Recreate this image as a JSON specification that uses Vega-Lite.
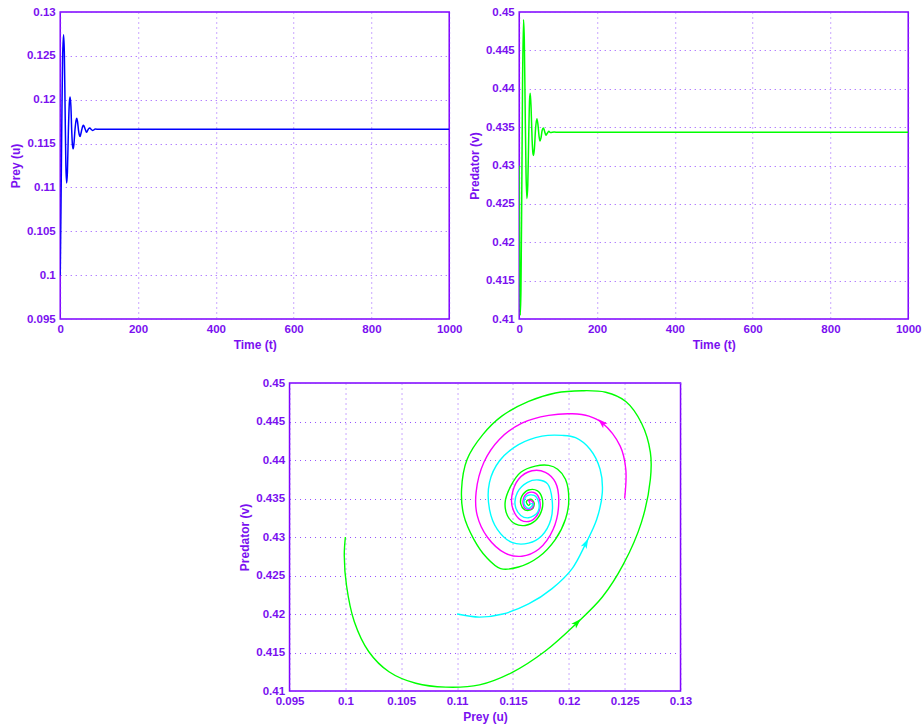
{
  "$schema": "https://vega.github.io/schema/vega-lite/v6.json",
  "padding": {"left": 8, "top": 5, "right": 1, "bottom": 2},
  "background": "white",
  "datasets": {
    "prey": [
      {"t": 0, "u": 0.1}, {"t": 2, "u": 0.108}, {"t": 4, "u": 0.117}, {"t": 6, "u": 0.1245},
      {"t": 8.5, "u": 0.1274}, {"t": 10.5, "u": 0.1255}, {"t": 12.5, "u": 0.119}, {"t": 14.5, "u": 0.1125},
      {"t": 16.5, "u": 0.1105}, {"t": 18.5, "u": 0.1118}, {"t": 21, "u": 0.1165}, {"t": 23.5, "u": 0.1197},
      {"t": 25.5, "u": 0.1203}, {"t": 27.5, "u": 0.1192}, {"t": 29.5, "u": 0.1165}, {"t": 31.5, "u": 0.1148},
      {"t": 33.5, "u": 0.1144}, {"t": 35.5, "u": 0.1151}, {"t": 38, "u": 0.1166}, {"t": 40.5, "u": 0.1176},
      {"t": 42.5, "u": 0.1179}, {"t": 44.5, "u": 0.1175}, {"t": 47, "u": 0.1165}, {"t": 49, "u": 0.116},
      {"t": 51, "u": 0.1158}, {"t": 53, "u": 0.1161}, {"t": 55.5, "u": 0.1166}, {"t": 58, "u": 0.117},
      {"t": 60, "u": 0.1171}, {"t": 62, "u": 0.1169}, {"t": 64.5, "u": 0.1166}, {"t": 67.5, "u": 0.1163},
      {"t": 70.5, "u": 0.1165}, {"t": 73, "u": 0.1167}, {"t": 76, "u": 0.11677}, {"t": 80, "u": 0.1166},
      {"t": 84, "u": 0.1165}, {"t": 90, "u": 0.11665}, {"t": 100, "u": 0.11662}, {"t": 200, "u": 0.11663},
      {"t": 400, "u": 0.11663}, {"t": 600, "u": 0.11663}, {"t": 800, "u": 0.11663}, {"t": 1000, "u": 0.11663}
    ],
    "pred": [
      {"t": 0, "v": 0.43}, {"t": 1, "v": 0.419}, {"t": 2.6, "v": 0.4105}, {"t": 4.5, "v": 0.414},
      {"t": 6.5, "v": 0.426}, {"t": 8.5, "v": 0.4405}, {"t": 11, "v": 0.449}, {"t": 13, "v": 0.4465},
      {"t": 15, "v": 0.4385}, {"t": 17.5, "v": 0.429}, {"t": 19.7, "v": 0.4257}, {"t": 22, "v": 0.4275},
      {"t": 24.5, "v": 0.434}, {"t": 26.5, "v": 0.4385}, {"t": 28.3, "v": 0.4394}, {"t": 30.5, "v": 0.4375},
      {"t": 33, "v": 0.4335}, {"t": 35.5, "v": 0.4315}, {"t": 36.8, "v": 0.4313}, {"t": 39, "v": 0.4322},
      {"t": 42, "v": 0.4348}, {"t": 45.4, "v": 0.4361}, {"t": 48, "v": 0.4354}, {"t": 51, "v": 0.4338},
      {"t": 53.5, "v": 0.4332}, {"t": 56, "v": 0.4336}, {"t": 59, "v": 0.4346}, {"t": 62, "v": 0.4349},
      {"t": 65, "v": 0.4345}, {"t": 68.5, "v": 0.43395}, {"t": 72, "v": 0.4342}, {"t": 76, "v": 0.43445},
      {"t": 80, "v": 0.4343}, {"t": 90, "v": 0.43435}, {"t": 100, "v": 0.43432}, {"t": 200, "v": 0.43432},
      {"t": 400, "v": 0.43432}, {"t": 600, "v": 0.43432}, {"t": 800, "v": 0.43432}, {"t": 1000, "v": 0.43432}
    ],
    "phase": [
      {"s": "green", "i": 0, "u": 0.1, "v": 0.43}, {"s": "green", "i": 1, "u": 0.0999, "v": 0.4276},
      {"s": "green", "i": 2, "u": 0.1001, "v": 0.4237}, {"s": "green", "i": 3, "u": 0.1008, "v": 0.419},
      {"s": "green", "i": 4, "u": 0.1021, "v": 0.4151}, {"s": "green", "i": 5, "u": 0.1039, "v": 0.4125},
      {"s": "green", "i": 6, "u": 0.1063, "v": 0.411}, {"s": "green", "i": 7, "u": 0.109, "v": 0.4105},
      {"s": "green", "i": 8, "u": 0.112, "v": 0.4108}, {"s": "green", "i": 9, "u": 0.1149, "v": 0.4124},
      {"s": "green", "i": 10, "u": 0.1179, "v": 0.4152}, {"s": "green", "i": 11, "u": 0.1207, "v": 0.4188},
      {"s": "green", "i": 12, "u": 0.123, "v": 0.4222}, {"s": "green", "i": 13, "u": 0.1249, "v": 0.4265},
      {"s": "green", "i": 14, "u": 0.1265, "v": 0.4319}, {"s": "green", "i": 15, "u": 0.1273, "v": 0.4375},
      {"s": "green", "i": 16, "u": 0.1273, "v": 0.441}, {"s": "green", "i": 17, "u": 0.1265, "v": 0.4448},
      {"s": "green", "i": 18, "u": 0.1251, "v": 0.4476}, {"s": "green", "i": 19, "u": 0.1233, "v": 0.4488},
      {"s": "green", "i": 20, "u": 0.1212, "v": 0.449}, {"s": "green", "i": 21, "u": 0.1188, "v": 0.4487},
      {"s": "green", "i": 22, "u": 0.1164, "v": 0.4476}, {"s": "green", "i": 23, "u": 0.114, "v": 0.4457},
      {"s": "green", "i": 24, "u": 0.1123, "v": 0.4433}, {"s": "green", "i": 25, "u": 0.1109, "v": 0.4401},
      {"s": "green", "i": 26, "u": 0.1104, "v": 0.4362}, {"s": "green", "i": 27, "u": 0.1106, "v": 0.4328},
      {"s": "green", "i": 28, "u": 0.1115, "v": 0.4297}, {"s": "green", "i": 29, "u": 0.1126, "v": 0.4274},
      {"s": "green", "i": 30, "u": 0.1139, "v": 0.4259}, {"s": "green", "i": 31, "u": 0.1155, "v": 0.4261},
      {"s": "green", "i": 32, "u": 0.1173, "v": 0.4274}, {"s": "green", "i": 33, "u": 0.1188, "v": 0.4297},
      {"s": "green", "i": 34, "u": 0.1197, "v": 0.4323}, {"s": "green", "i": 35, "u": 0.12, "v": 0.4349},
      {"s": "green", "i": 36, "u": 0.1197, "v": 0.4375}, {"s": "green", "i": 37, "u": 0.119, "v": 0.4388},
      {"s": "green", "i": 38, "u": 0.1182, "v": 0.4393}, {"s": "green", "i": 39, "u": 0.117, "v": 0.4392},
      {"s": "green", "i": 40, "u": 0.1157, "v": 0.4384}, {"s": "green", "i": 41, "u": 0.1148, "v": 0.4366},
      {"s": "green", "i": 42, "u": 0.1143, "v": 0.4345}, {"s": "green", "i": 43, "u": 0.1145, "v": 0.4328},
      {"s": "green", "i": 44, "u": 0.1152, "v": 0.4317}, {"s": "green", "i": 45, "u": 0.1161, "v": 0.4315},
      {"s": "green", "i": 46, "u": 0.117, "v": 0.4321}, {"s": "green", "i": 47, "u": 0.1176, "v": 0.4336},
      {"s": "green", "i": 48, "u": 0.1176, "v": 0.4351}, {"s": "green", "i": 49, "u": 0.1172, "v": 0.436},
      {"s": "green", "i": 50, "u": 0.1164, "v": 0.4361}, {"s": "green", "i": 51, "u": 0.1158, "v": 0.4353},
      {"s": "green", "i": 52, "u": 0.1157, "v": 0.4343}, {"s": "green", "i": 53, "u": 0.1161, "v": 0.4335},
      {"s": "green", "i": 54, "u": 0.1167, "v": 0.4336}, {"s": "green", "i": 55, "u": 0.1169, "v": 0.4344},
      {"s": "green", "i": 56, "u": 0.1166, "v": 0.4349}, {"s": "green", "i": 57, "u": 0.1162, "v": 0.4346},
      {"s": "green", "i": 58, "u": 0.1164, "v": 0.4341}, {"s": "green", "i": 59, "u": 0.11655, "v": 0.43432},
      {"s": "magenta", "i": 0, "u": 0.125, "v": 0.435}, {"s": "magenta", "i": 1, "u": 0.1251, "v": 0.4388},
      {"s": "magenta", "i": 2, "u": 0.1246, "v": 0.4418}, {"s": "magenta", "i": 3, "u": 0.123, "v": 0.4448},
      {"s": "magenta", "i": 4, "u": 0.1218, "v": 0.4457}, {"s": "magenta", "i": 5, "u": 0.1203, "v": 0.446},
      {"s": "magenta", "i": 6, "u": 0.1182, "v": 0.4458}, {"s": "magenta", "i": 7, "u": 0.1158, "v": 0.4448},
      {"s": "magenta", "i": 8, "u": 0.1138, "v": 0.4427}, {"s": "magenta", "i": 9, "u": 0.1124, "v": 0.4397},
      {"s": "magenta", "i": 10, "u": 0.1117, "v": 0.4358}, {"s": "magenta", "i": 11, "u": 0.1118, "v": 0.4328},
      {"s": "magenta", "i": 12, "u": 0.1127, "v": 0.43}, {"s": "magenta", "i": 13, "u": 0.1143, "v": 0.4279},
      {"s": "magenta", "i": 14, "u": 0.1158, "v": 0.4275}, {"s": "magenta", "i": 15, "u": 0.1173, "v": 0.4284},
      {"s": "magenta", "i": 16, "u": 0.1186, "v": 0.431}, {"s": "magenta", "i": 17, "u": 0.1191, "v": 0.4345},
      {"s": "magenta", "i": 18, "u": 0.1188, "v": 0.4371}, {"s": "magenta", "i": 19, "u": 0.1179, "v": 0.4384},
      {"s": "magenta", "i": 20, "u": 0.1167, "v": 0.4386}, {"s": "magenta", "i": 21, "u": 0.1155, "v": 0.4375},
      {"s": "magenta", "i": 22, "u": 0.1149, "v": 0.4353}, {"s": "magenta", "i": 23, "u": 0.115, "v": 0.4336},
      {"s": "magenta", "i": 24, "u": 0.1157, "v": 0.4322}, {"s": "magenta", "i": 25, "u": 0.1166, "v": 0.4321},
      {"s": "magenta", "i": 26, "u": 0.1173, "v": 0.4332}, {"s": "magenta", "i": 27, "u": 0.1174, "v": 0.4347},
      {"s": "magenta", "i": 28, "u": 0.117, "v": 0.4357}, {"s": "magenta", "i": 29, "u": 0.1163, "v": 0.4357},
      {"s": "magenta", "i": 30, "u": 0.1159, "v": 0.4347}, {"s": "magenta", "i": 31, "u": 0.1161, "v": 0.4337},
      {"s": "magenta", "i": 32, "u": 0.1167, "v": 0.4337}, {"s": "magenta", "i": 33, "u": 0.1168, "v": 0.4345},
      {"s": "magenta", "i": 34, "u": 0.1164, "v": 0.4348}, {"s": "magenta", "i": 35, "u": 0.11655, "v": 0.43432},
      {"s": "cyan", "i": 0, "u": 0.11, "v": 0.42}, {"s": "cyan", "i": 1, "u": 0.112, "v": 0.4196},
      {"s": "cyan", "i": 2, "u": 0.1141, "v": 0.42}, {"s": "cyan", "i": 3, "u": 0.1164, "v": 0.4213},
      {"s": "cyan", "i": 4, "u": 0.1185, "v": 0.4233}, {"s": "cyan", "i": 5, "u": 0.1203, "v": 0.4259},
      {"s": "cyan", "i": 6, "u": 0.1215, "v": 0.4291}, {"s": "cyan", "i": 7, "u": 0.1225, "v": 0.4323},
      {"s": "cyan", "i": 8, "u": 0.123, "v": 0.4358}, {"s": "cyan", "i": 9, "u": 0.1228, "v": 0.4388},
      {"s": "cyan", "i": 10, "u": 0.1219, "v": 0.4414}, {"s": "cyan", "i": 11, "u": 0.1206, "v": 0.4429},
      {"s": "cyan", "i": 12, "u": 0.1194, "v": 0.4432}, {"s": "cyan", "i": 13, "u": 0.1176, "v": 0.4431},
      {"s": "cyan", "i": 14, "u": 0.1155, "v": 0.442}, {"s": "cyan", "i": 15, "u": 0.1138, "v": 0.4399},
      {"s": "cyan", "i": 16, "u": 0.1129, "v": 0.4371}, {"s": "cyan", "i": 17, "u": 0.1129, "v": 0.4336},
      {"s": "cyan", "i": 18, "u": 0.1136, "v": 0.431}, {"s": "cyan", "i": 19, "u": 0.1149, "v": 0.4293},
      {"s": "cyan", "i": 20, "u": 0.1164, "v": 0.4292}, {"s": "cyan", "i": 21, "u": 0.1176, "v": 0.4302},
      {"s": "cyan", "i": 22, "u": 0.1184, "v": 0.4323}, {"s": "cyan", "i": 23, "u": 0.1185, "v": 0.4349},
      {"s": "cyan", "i": 24, "u": 0.1181, "v": 0.4369}, {"s": "cyan", "i": 25, "u": 0.1173, "v": 0.4374},
      {"s": "cyan", "i": 26, "u": 0.1163, "v": 0.4371}, {"s": "cyan", "i": 27, "u": 0.1154, "v": 0.4358},
      {"s": "cyan", "i": 28, "u": 0.1152, "v": 0.4341}, {"s": "cyan", "i": 29, "u": 0.1157, "v": 0.4328},
      {"s": "cyan", "i": 30, "u": 0.1164, "v": 0.4325}, {"s": "cyan", "i": 31, "u": 0.1172, "v": 0.4332},
      {"s": "cyan", "i": 32, "u": 0.1173, "v": 0.4345}, {"s": "cyan", "i": 33, "u": 0.1169, "v": 0.4354},
      {"s": "cyan", "i": 34, "u": 0.1162, "v": 0.4353}, {"s": "cyan", "i": 35, "u": 0.116, "v": 0.4343},
      {"s": "cyan", "i": 36, "u": 0.1164, "v": 0.4337}, {"s": "cyan", "i": 37, "u": 0.1168, "v": 0.4343},
      {"s": "cyan", "i": 38, "u": 0.11655, "v": 0.43432}
    ],
    "arrows": [
      {"s": "green", "u": 0.1207, "v": 0.4188},
      {"s": "cyan", "u": 0.1215, "v": 0.4291},
      {"s": "magenta", "u": 0.123, "v": 0.4448}
    ]
  },
  "vconcat": [
    {
      "hconcat": [
        {
          "width": 389, "height": 307,
          "data": {"name": "prey"},
          "mark": {"type": "line", "color": "#0000ff", "strokeWidth": 1.5, "interpolate": "monotone", "clip": true},
          "encoding": {
            "x": {"field": "t", "type": "quantitative", "scale": {"domain": [0, 1000], "nice": false}, "axis": {"title": "Time (t)", "format": "d", "values": [0, 200, 400, 600, 800, 1000]}},
            "y": {"field": "u", "type": "quantitative", "scale": {"domain": [0.095, 0.13], "nice": false, "zero": false}, "axis": {"title": "Prey (u)", "format": "~g", "values": [0.095, 0.1, 0.105, 0.11, 0.115, 0.12, 0.125, 0.13]}}
          }
        },
        {
          "width": 389, "height": 307,
          "data": {"name": "pred"},
          "mark": {"type": "line", "color": "#00ff00", "strokeWidth": 1.5, "interpolate": "monotone", "clip": true},
          "encoding": {
            "x": {"field": "t", "type": "quantitative", "scale": {"domain": [0, 1000], "nice": false}, "axis": {"title": "Time (t)", "format": "d", "values": [0, 200, 400, 600, 800, 1000]}},
            "y": {"field": "v", "type": "quantitative", "scale": {"domain": [0.41, 0.45], "nice": false, "zero": false}, "axis": {"title": "Predator (v)", "format": "~g", "values": [0.41, 0.415, 0.42, 0.425, 0.43, 0.435, 0.44, 0.445, 0.45]}}
          }
        }
      ],
      "spacing": 4
    },
    {
      "width": 391, "height": 308,
      "encoding": {
        "x": {"field": "u", "type": "quantitative", "scale": {"domain": [0.095, 0.13], "nice": false, "zero": false}, "axis": {"title": "Prey (u)", "format": "~g", "values": [0.095, 0.1, 0.105, 0.11, 0.115, 0.12, 0.125, 0.13]}},
        "y": {"field": "v", "type": "quantitative", "scale": {"domain": [0.41, 0.45], "nice": false, "zero": false}, "axis": {"title": "Predator (v)", "format": "~g", "values": [0.41, 0.415, 0.42, 0.425, 0.43, 0.435, 0.44, 0.445, 0.45]}},
        "color": {"field": "s", "type": "nominal", "scale": {"domain": ["green", "magenta", "cyan"], "range": ["#00ff00", "#ff00ff", "#00ffff"]}, "legend": null}
      },
      "layer": [
        {
          "data": {"name": "phase"},
          "mark": {"type": "line", "strokeWidth": 1.4, "interpolate": "catmull-rom", "clip": true},
          "encoding": {"order": {"field": "i", "type": "quantitative"}, "detail": {"field": "s"}}
        },
        {
          "data": {"name": "arrows"},
          "transform": [{"filter": "datum.s === 'green'"}],
          "mark": {"type": "point", "filled": true, "opacity": 1, "size": 140, "angle": 45, "shape": "M0,-1L0.55,0.7L0,0.3L-0.55,0.7Z"}
        },
        {
          "data": {"name": "arrows"},
          "transform": [{"filter": "datum.s === 'cyan'"}],
          "mark": {"type": "point", "filled": true, "opacity": 1, "size": 140, "angle": 27, "shape": "M0,-1L0.55,0.7L0,0.3L-0.55,0.7Z"}
        },
        {
          "data": {"name": "arrows"},
          "transform": [{"filter": "datum.s === 'magenta'"}],
          "mark": {"type": "point", "filled": true, "opacity": 1, "size": 140, "angle": 313, "shape": "M0,-1L0.55,0.7L0,0.3L-0.55,0.7Z"}
        }
      ]
    }
  ],
  "center": true,
  "spacing": 24,
  "config": {
    "font": "Liberation Sans",
    "view": {"stroke": "#7f00ff", "strokeWidth": 1.5},
    "axis": {
      "domain": false, "ticks": false, "tickSize": 0,
      "labelFont": "Liberation Sans", "labelFontWeight": "bold", "labelFontSize": 11.5, "labelColor": "#7a10f0",
      "titleFont": "Liberation Sans", "titleFontWeight": "bold", "titleFontSize": 12, "titleColor": "#7a10f0",
      "grid": true, "gridColor": "#8a3cff", "gridOpacity": 0.9, "gridDash": [1, 4], "gridWidth": 1,
      "labelPadding": 5, "labelFlush": false, "labelOverlap": false
    },
    "axisY": {"minExtent": 33, "maxExtent": 33, "titlePadding": 5},
    "axisX": {"labelPadding": 4, "titlePadding": 5}
  }
}
